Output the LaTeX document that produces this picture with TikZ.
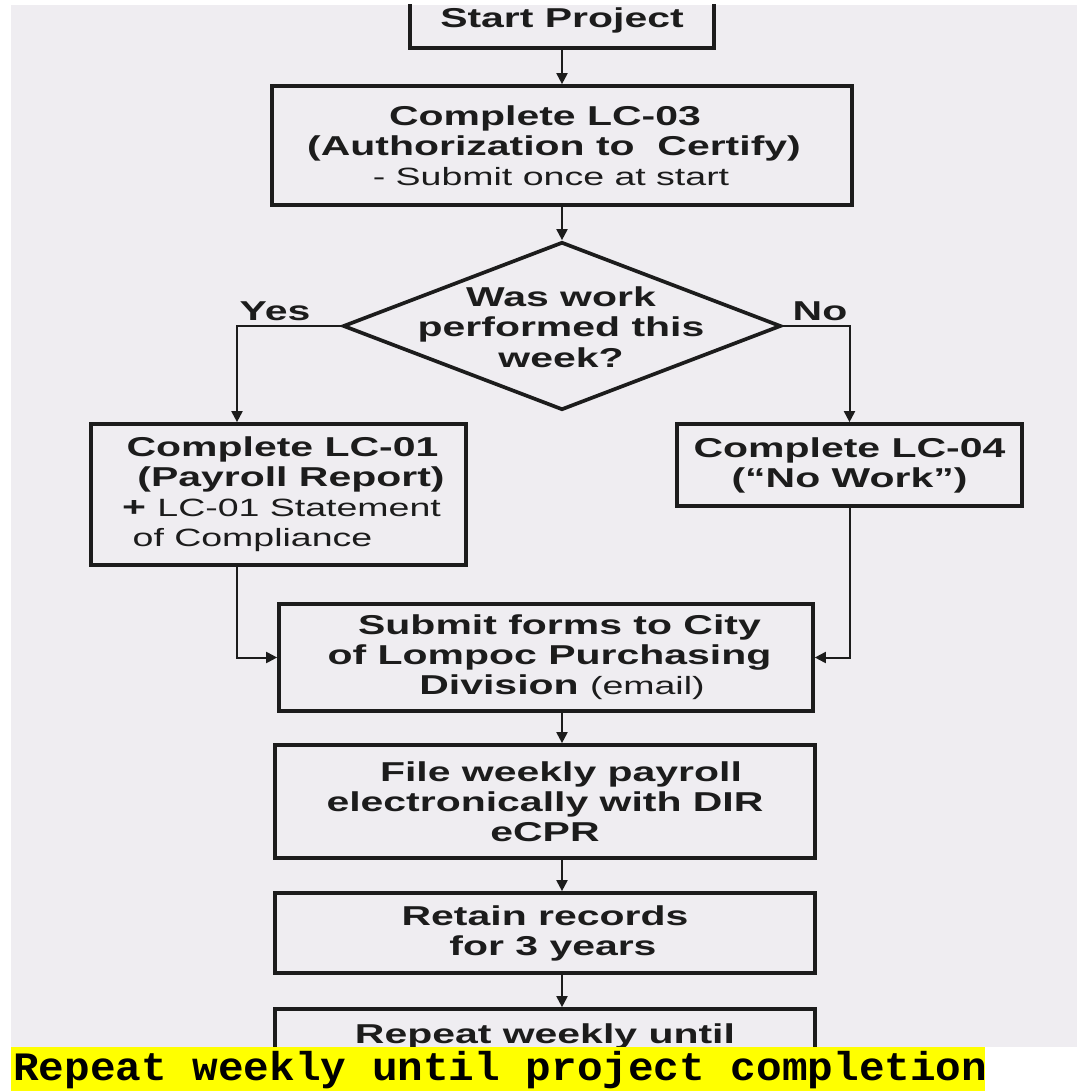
\documentclass[tikz,border=0pt]{standalone}
\usepackage{fontspec}
\setmainfont{Liberation Sans}
\newfontfamily\flowfont[FakeStretch=1.5]{Liberation Sans}
\newfontfamily\monofont[FakeStretch=1.06]{Liberation Mono}
\usetikzlibrary{shapes.geometric,arrows.meta}
\definecolor{paper}{RGB}{239,237,241}
\definecolor{ink}{RGB}{28,28,28}
\definecolor{hl}{RGB}{255,255,0}
\newcommand\rtext[1]{{\mdseries\fontsize{25}{30}\selectfont #1}}
\begin{document}
\begin{tikzpicture}[x=1pt,y=-1pt,
  box/.style={draw=ink, line width=3.7pt, inner sep=0pt, align=center,
    font=\flowfont\fontsize{27.3}{30}\selectfont\bfseries, text=ink},
  decbox/.style={draw=ink, line width=3.7pt, diamond, inner sep=0pt,
    minimum width=438pt, minimum height=168pt},
  arr/.style={draw=ink, line width=2pt, -{Triangle[length=11pt,width=11pt]}},
  lbl/.style={font=\flowfont\fontsize{27.3}{30.5}\selectfont\bfseries, text=ink, inner sep=0pt}
]
\useasboundingbox (0,0) rectangle (1077,1091);
\fill[white] (0,0) rectangle (1077,1091);
\fill[paper] (11,5) rectangle (1077,1047);
\begin{scope}
\clip (11,5) rectangle (1077,1047);
\node[box, minimum width=304pt, minimum height=56pt] (start) at (562,20) {Start Project};
\node[box, minimum width=580pt, minimum height=119pt] (lc03) at (562,145.5)
  {Complete LC-03\kern34pt\\(Authorization to\ \ Certify)\kern16pt\\\rtext{- Submit once at start}\kern22pt};
\node[decbox] (dec) at (562,326) {};
\node[lbl, align=center] (dect) at (561,327) {Was work\\performed this\\week?};
\node[lbl] (yes) at (275,311) {Yes};
\node[lbl] (no) at (820,311) {No};
\node[box, minimum width=375pt, minimum height=141pt] (lc01) at (278.5,494.5)
  {\kern8pt Complete LC-01\\\kern25pt(Payroll Report)\\\kern6pt+ \rtext{LC-01 Statement}\\\rtext{of Compliance}\kern52pt};
\node[box, minimum width=345pt, minimum height=82pt] (lc04) at (849.5,465)
  {Complete LC-04\\(“No Work”)};
\node[box, minimum width=534pt, minimum height=107pt] (submit) at (546,657.5)
  {\kern27pt Submit forms to City\\\kern7pt of Lompoc Purchasing\\\kern32pt Division \rtext{(email)}};
\node[box, minimum width=540pt, minimum height=113pt] (file) at (545,801.5)
  {\kern32pt File weekly payroll\\electronically with DIR\\eCPR};
\node[box, minimum width=540pt, minimum height=80pt] (retain) at (545,933)
  {Retain records\\\kern16pt for 3 years};
\node[box, minimum width=540pt, minimum height=80pt] (repeat) at (545,1049)
  {Repeat weekly until\\\mbox{}};
\coordinate (ax) at (562,0);
\coordinate (yc) at (237,0);
\draw[arr] (start) -- (lc03);
\draw[arr] (lc03) -- (dec);
\draw[arr] (dec.west) -| (yc |- lc01.north);
\draw[arr] (dec.east) -| (lc04.north);
\draw[arr] (yc |- lc01.south) |- (submit.west);
\draw[arr] (lc04.south) |- (submit.east);
\draw[arr] (ax |- submit.south) -- (ax |- file.north);
\draw[arr] (ax |- file.south) -- (ax |- retain.north);
\draw[arr] (ax |- retain.south) -- (ax |- repeat.north);
\end{scope}
\fill[hl] (11,1047) rectangle (985,1091);
\node[anchor=base west, inner sep=0pt, font=\monofont\bfseries\fontsize{40.3}{40}\selectfont] (note) at (13,1080) {Repeat weekly until project completion};
\end{tikzpicture}
\end{document}
